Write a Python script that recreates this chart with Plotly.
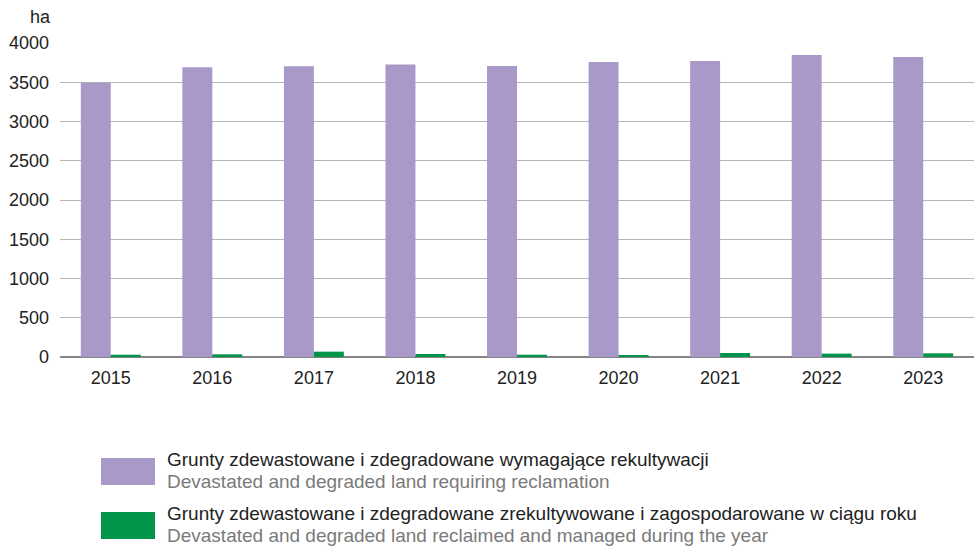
import plotly.graph_objects as go

years = ["2015", "2016", "2017", "2018", "2019", "2020", "2021", "2022", "2023"]
requiring = [3495, 3690, 3705, 3725, 3708, 3758, 3770, 3848, 3822]
reclaimed = [29, 34, 68, 38, 29, 17, 51, 43, 47]

pl_name1 = "Grunty zdewastowane i zdegradowane wymagające rekultywacji"
en_name1 = "Devastated and degraded land requiring reclamation"
pl_name2 = "Grunty zdewastowane i zdegradowane zrekultywowane i zagospodarowane w ciągu roku"
en_name2 = "Devastated and degraded land reclaimed and managed during the year"

purple = "#a899c8"
green = "#00954a"

W, H = 974, 548
ML, MR, MT, MB = 60, 0, 43, 191

fig = go.Figure()
fig.add_bar(x=years, y=requiring, name=pl_name1, marker=dict(color=purple, line=dict(width=0)))
fig.add_bar(x=years, y=reclaimed, name=pl_name2, marker=dict(color=green, line=dict(width=0)))

font = "Liberation Sans, Arial, sans-serif"
fig.update_layout(
    width=W, height=H,
    margin=dict(l=ML, r=MR, t=MT, b=MB),
    paper_bgcolor="white", plot_bgcolor="white",
    barmode="group", bargap=0.41, bargroupgap=0,
    showlegend=False,
    font=dict(family=font, size=18, color="#222222"),
    xaxis=dict(showgrid=False, ticks="", showline=False, ticklabelstandoff=8,
               tickfont=dict(size=18, color="#222222")),
    yaxis=dict(range=[0, 4000], dtick=500, showgrid=True, gridcolor="#b5b5b5", gridwidth=1.3,
               zeroline=True, zerolinecolor="#858585", zerolinewidth=1.5,
               ticks="", ticklabelstandoff=10, tickfont=dict(size=18, color="#222222")),
)

pw = W - ML - MR
ph = H - MT - MB


def px_x(x):
    return (x - ML) / pw


def px_y(y):
    return (H - MB - y) / ph


fig.add_annotation(text="ha", xref="paper", yref="paper", x=px_x(28), y=px_y(17),
                   xanchor="left", yanchor="middle", showarrow=False,
                   font=dict(size=18, color="#222222"))

legend = [(purple, pl_name1, en_name1, 458), (green, pl_name2, en_name2, 512)]
for color, pl, en, top in legend:
    fig.add_shape(type="rect", xref="paper", yref="paper",
                  x0=px_x(101), x1=px_x(155), y0=px_y(top), y1=px_y(top + 27),
                  fillcolor=color, line=dict(width=0))
    fig.add_annotation(text=pl, xref="paper", yref="paper", x=px_x(165), y=px_y(top + 1),
                       xanchor="left", yanchor="middle", showarrow=False,
                       font=dict(size=19, color="#222222"))
    fig.add_annotation(text=en, xref="paper", yref="paper", x=px_x(165), y=px_y(top + 23),
                       xanchor="left", yanchor="middle", showarrow=False,
                       font=dict(size=19, color="#7a7a7a"))

fig.write_html("out.html", config={"displayModeBar": False},
               post_script="document.body.style.margin='0px';")
